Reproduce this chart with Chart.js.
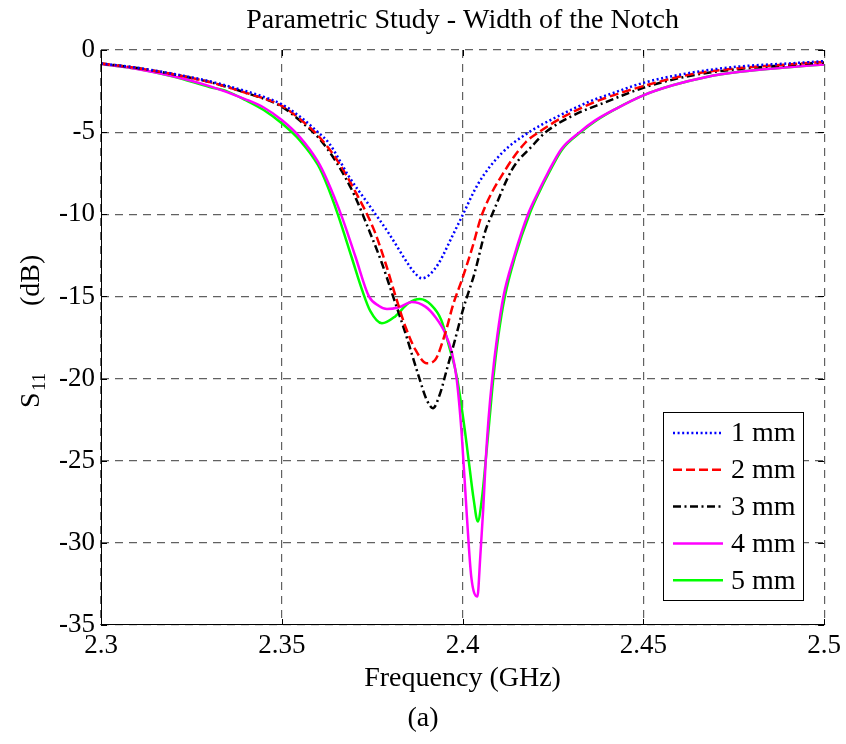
<!DOCTYPE html>
<html>
<head>
<meta charset="utf-8">
<script src="https://cdn.jsdelivr.net/npm/chart.js@4.4.1/dist/chart.umd.min.js"></script>
<style>
  html, body { margin: 0; padding: 0; background: #fff; }
  #wrap { width: 846px; height: 744px; }
</style>
</head>
<body>
<div id="wrap"><canvas id="c" width="846" height="744"></canvas></div>
<script>
// Reflection coefficient S11 (dB) versus frequency (GHz) for five notch widths
const seriesLabels = ['1 mm', '2 mm', '3 mm', '4 mm', '5 mm'];

const freq1 = [2.30, 2.31, 2.32, 2.33, 2.34, 2.345, 2.35, 2.355, 2.36, 2.3631, 2.3686, 2.3741, 2.3796, 2.3842, 2.3865, 2.3888, 2.391, 2.3934, 2.3971, 2.3998, 2.4044, 2.4108, 2.4184, 2.4258, 2.435, 2.4425, 2.45, 2.4627, 2.4767, 2.49, 2.50];
const s11_1 = [-0.82, -1.08, -1.45, -1.9, -2.5, -2.85, -3.3, -4.05, -5.0, -5.68, -7.71, -9.43, -11.16, -12.78, -13.5, -13.9, -13.65, -12.98, -11.36, -10.15, -8.11, -6.29, -5.0, -4.1, -3.15, -2.55, -2.0, -1.4, -1.0, -0.82, -0.68];

const freq2 = [2.30, 2.31, 2.32, 2.33, 2.34, 2.35, 2.355, 2.36, 2.365, 2.37, 2.3755, 2.3787, 2.3815, 2.3842, 2.387, 2.3901, 2.3924, 2.3952, 2.3975, 2.3998, 2.4025, 2.4054, 2.4119, 2.4174, 2.4211, 2.4285, 2.4377, 2.45, 2.4627, 2.4767, 2.49, 2.50];
const s11_2 = [-0.82, -1.1, -1.48, -1.95, -2.6, -3.4, -4.2, -5.2, -6.6, -8.48, -10.95, -12.98, -15.0, -16.84, -18.26, -19.07, -18.87, -17.24, -15.42, -14.0, -12.17, -10.0, -7.27, -5.63, -5.0, -4.0, -3.07, -2.2, -1.5, -1.1, -0.88, -0.72];

const freq3 = [2.30, 2.31, 2.32, 2.33, 2.34, 2.35, 2.355, 2.36, 2.365, 2.37, 2.3741, 2.3777, 2.3805, 2.3842, 2.3879, 2.3901, 2.3918, 2.3938, 2.3956, 2.3979, 2.4001, 2.4033, 2.4064, 2.4082, 2.4137, 2.4193, 2.423, 2.4304, 2.4396, 2.45, 2.4627, 2.4767, 2.49, 2.50];
const s11_3 = [-0.82, -1.1, -1.48, -1.95, -2.6, -3.45, -4.3, -5.3, -6.8, -8.8, -10.95, -12.98, -14.81, -17.24, -19.88, -21.3, -21.8, -20.9, -19.48, -17.65, -15.82, -13.6, -10.95, -10.0, -7.27, -5.83, -5.0, -4.0, -3.17, -2.3, -1.58, -1.15, -0.92, -0.76];

const freq4 = [2.30, 2.31, 2.32, 2.33, 2.34, 2.345, 2.35, 2.355, 2.36, 2.3625, 2.3667, 2.3704, 2.3741, 2.3769, 2.3791, 2.3824, 2.386, 2.3897, 2.3924, 2.3952, 2.3971, 2.3984, 2.3998, 2.4012, 2.4024, 2.4041, 2.4049, 2.4057, 2.4064, 2.4072, 2.4082, 2.4096, 2.4113, 2.4142, 2.4182, 2.4208, 2.4236, 2.4273, 2.4324, 2.4366, 2.4424, 2.45, 2.4581, 2.4675, 2.4767, 2.49, 2.50];
const s11_4 = [-0.85, -1.15, -1.6, -2.2, -3.0, -3.5, -4.26, -5.3, -6.8, -7.9, -10.2, -12.6, -15.0, -15.58, -15.77, -15.66, -15.34, -15.62, -16.23, -17.24, -18.46, -20.08, -23.5, -28.4, -32.05, -33.27, -30.84, -28.0, -25.0, -22.4, -20.0, -17.4, -15.0, -12.6, -9.94, -8.7, -7.47, -6.04, -5.0, -4.3, -3.58, -2.76, -2.15, -1.64, -1.33, -1.05, -0.88];

const freq5 = [2.30, 2.31, 2.32, 2.33, 2.335, 2.34, 2.345, 2.35, 2.355, 2.36, 2.3625, 2.3655, 2.3693, 2.3722, 2.3745, 2.3777, 2.3813, 2.385, 2.3882, 2.3913, 2.3941, 2.3963, 2.3984, 2.4006, 2.4017, 2.4031, 2.4042, 2.4053, 2.4064, 2.4074, 2.4085, 2.4099, 2.4117, 2.4145, 2.4186, 2.4211, 2.4239, 2.4276, 2.4327, 2.4369, 2.4424, 2.45, 2.4581, 2.4675, 2.4767, 2.49, 2.50];
const s11_5 = [-0.85, -1.15, -1.62, -2.25, -2.53, -3.05, -3.65, -4.46, -5.5, -7.0, -8.2, -10.0, -12.6, -14.6, -15.9, -16.64, -16.23, -15.42, -15.16, -15.52, -16.43, -18.06, -19.88, -23.1, -25.0, -27.4, -28.7, -27.4, -25.0, -22.6, -20.0, -17.4, -15.0, -12.6, -9.94, -8.7, -7.47, -6.04, -5.0, -4.3, -3.58, -2.76, -2.15, -1.64, -1.33, -1.05, -0.88];

const xTicks = [2.3, 2.35, 2.4, 2.45, 2.5];
const yTicks = [0, -5, -10, -15, -20, -25, -30, -35];

const FONT = "'Liberation Serif', 'Times New Roman', Times, serif";
const TICK_FS = 27;
const TEXT_FS = 28;

function pts(xs, ys) { return xs.map((x, i) => ({ x: x, y: ys[i] })); }

const styles = [
  { color: '#0000ff', dash: [2, 2.6] },
  { color: '#ff0000', dash: [9, 4] },
  { color: '#000000', dash: [8, 3.5, 2, 3.5] },
  { color: '#ff00ff', dash: [] },
  { color: '#00ff00', dash: [] }
];
const freqs = [freq1, freq2, freq3, freq4, freq5];
const vals = [s11_1, s11_2, s11_3, s11_4, s11_5];

const datasets = seriesLabels.map((lab, i) => ({
  label: lab,
  data: pts(freqs[i], vals[i]),
  borderColor: styles[i].color,
  backgroundColor: styles[i].color,
  borderDash: styles[i].dash,
  borderWidth: 2.5,
  pointRadius: 0,
  fill: false,
  cubicInterpolationMode: 'monotone'
}));

// Axis lines, inward ticks, boxed legend and text
const decor = {
  id: 'decor',
  afterDatasetsDraw(chart) {
    const ctx = chart.ctx;
    const a = chart.chartArea;
    const xs = chart.scales.x, ys = chart.scales.y;
    ctx.save();
    ctx.strokeStyle = '#000';
    ctx.lineWidth = 1;
    ctx.setLineDash([]);
    // solid left and bottom axis lines
    ctx.beginPath();
    ctx.moveTo(a.left + 0.5, a.top);
    ctx.lineTo(a.left + 0.5, a.bottom - 0.5);
    ctx.lineTo(a.right, a.bottom - 0.5);
    ctx.stroke();
    // inward tick marks
    const tl = 6;
    ctx.beginPath();
    xTicks.forEach(v => {
      const px = Math.round(xs.getPixelForValue(v)) + 0.5;
      ctx.moveTo(px, a.bottom); ctx.lineTo(px, a.bottom - tl);
      ctx.moveTo(px, a.top); ctx.lineTo(px, a.top + tl);
    });
    yTicks.forEach(v => {
      const py = Math.round(ys.getPixelForValue(v)) + 0.5;
      ctx.moveTo(a.left, py); ctx.lineTo(a.left + tl, py);
      ctx.moveTo(a.right, py); ctx.lineTo(a.right - tl, py);
    });
    ctx.stroke();

    // legend box
    const lx = 663, ly = 412, lw = 140, lh = 188;
    ctx.fillStyle = '#fff';
    ctx.fillRect(lx, ly, lw, lh);
    ctx.strokeRect(lx + 0.5, ly + 0.5, lw, lh);
    ctx.font = TEXT_FS + 'px ' + FONT;
    ctx.textBaseline = 'middle';
    ctx.textAlign = 'left';
    chart.data.datasets.forEach((ds, i) => {
      const ry = 433 + i * 36.8;
      ctx.strokeStyle = ds.borderColor;
      ctx.lineWidth = 2.5;
      ctx.setLineDash(ds.borderDash);
      ctx.beginPath();
      ctx.moveTo(673, ry); ctx.lineTo(723, ry);
      ctx.stroke();
      ctx.setLineDash([]);
      ctx.fillStyle = '#000';
      ctx.fillText(ds.label, 731, ry + 1);
    });

    // titles
    ctx.fillStyle = '#000';
    ctx.textAlign = 'center';
    ctx.textBaseline = 'middle';
    ctx.font = TEXT_FS + 'px ' + FONT;
    const cx = (a.left + a.right) / 2;
    ctx.fillText('Parametric Study - Width of the Notch', cx, 21);
    ctx.fillText('Frequency (GHz)', cx, 679);
    ctx.fillText('(a)', 423, 719);

    // rotated y-axis title: S, subscript 11, then (dB)
    ctx.translate(39, 408);
    ctx.rotate(-Math.PI / 2);
    ctx.textAlign = 'left';
    ctx.textBaseline = 'alphabetic';
    ctx.font = TEXT_FS + 'px ' + FONT;
    ctx.fillText('S', 0, 0);
    ctx.font = '19px ' + FONT;
    ctx.fillText('11', 17, 6);
    ctx.font = TEXT_FS + 'px ' + FONT;
    ctx.fillText('(dB)', 102, 0);
    ctx.restore();
  }
};

const gridOpts = { color: 'rgba(0,0,0,0.62)', lineWidth: 1.2, drawTicks: false };

new Chart(document.getElementById('c'), {
  type: 'line',
  data: { datasets: datasets },
  options: {
    responsive: false,
    animation: false,
    layout: { padding: { top: 50, right: 19, left: 0, bottom: 0 } },
    plugins: { legend: { display: false }, tooltip: { enabled: false }, title: { display: false } },
    scales: {
      x: {
        type: 'linear',
        min: 2.3, max: 2.5,
        afterFit: s => { s.height = 119; },
        afterBuildTicks: s => { s.ticks = xTicks.map(v => ({ value: v })); },
        ticks: {
          color: '#000', padding: 5,
          font: { family: FONT, size: TICK_FS },
          callback: v => String(v)
        },
        grid: gridOpts,
        border: { display: false, dash: [8, 6] }
      },
      y: {
        type: 'linear',
        min: -35, max: 0,
        afterFit: s => { s.width = 101; },
        afterBuildTicks: s => { s.ticks = yTicks.map(v => ({ value: v })); },
        ticks: {
          color: '#000', padding: 6,
          font: { family: FONT, size: TICK_FS },
          callback: v => String(v)
        },
        grid: gridOpts,
        border: { display: false, dash: [8, 6] }
      }
    }
  },
  plugins: [decor]
});
</script>
</body>
</html>
